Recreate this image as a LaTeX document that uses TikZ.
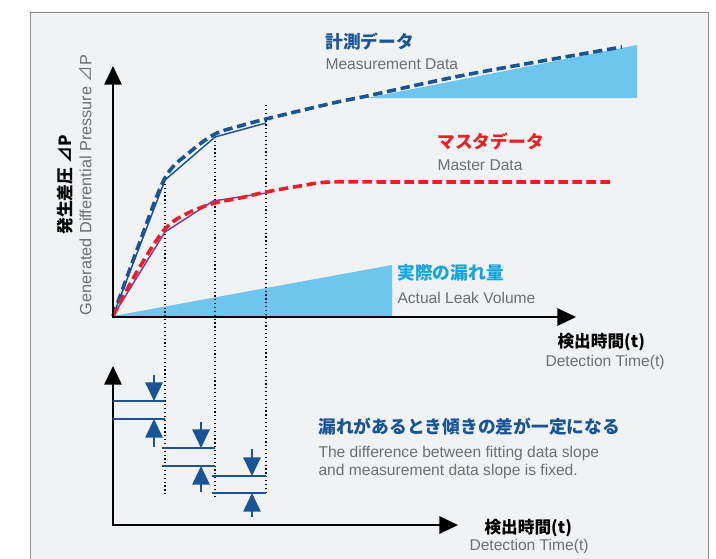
\documentclass[tikz,border=0pt]{standalone}
\usepackage{fontspec}
\setmainfont{Liberation Sans}
\newfontfamily\jp{Noto Sans CJK JP}
\usetikzlibrary{arrows.meta}

\definecolor{panelgray}{RGB}{241,242,244}
\definecolor{framegray}{RGB}{140,140,140}
\definecolor{measblue}{RGB}{24,84,150}
\definecolor{masterred}{RGB}{236,30,38}
\definecolor{leakblue}{RGB}{110,198,238}
\definecolor{leakcyan}{RGB}{20,165,225}
\definecolor{fitpurple}{RGB}{125,60,160}
\definecolor{textgray}{RGB}{110,111,113}

\tikzset{every picture/.style={line width=0.75pt}}
\tikzset{
  axisline/.style={black, line width=1.5pt, -{Triangle[length=14pt,width=13pt]}},
  guideline/.style={black, line width=0.9pt, dotted},
  jptitle/.style={anchor=west, inner sep=0.75pt, font=\jp\bfseries\fontsize{13.3pt}{15pt}\selectfont},
  entext/.style={anchor=west, inner sep=0.75pt, text=textgray, font=\fontsize{11.7pt}{13.5pt}\selectfont},
  difftick/.style={measblue, line width=1.5pt},
  diffarrow/.style={measblue, line width=1.5pt, -{Triangle[length=14pt,width=13pt]}}
}

\begin{document}
\begin{tikzpicture}[x=0.75pt,y=0.75pt,yscale=-1,xscale=1]
\useasboundingbox (0,0) rectangle (716,558);

%Shape: Rectangle [panel]
\fill[white] (0,0) rectangle (716,558);
\draw [draw=framegray, fill=panelgray] (30,12) -- (708,12) -- (708,575) -- (30,575) -- cycle ;

%Shape: Triangle [actual leak volume]
\fill [leakblue] (113,316) -- (392,265) -- (392,316) -- cycle ;
%Shape: Triangle [leak on measurement]
\fill [leakblue] (367,98) -- (637,45) -- (637,98) -- cycle ;

%Dotted guides
\draw [guideline] (165,180) -- (165,496) ;
\draw [guideline] (215,133) -- (215,497) ;
\draw [guideline] (266,105) -- (266,495) ;

%Fitting lines
\draw [measblue, line width=1.1pt] (113,316) -- (165,180) -- (215,137) -- (266,123) ;
\draw [fitpurple, line width=1.1pt] (113,316) -- (165,232) -- (213,201) -- (266,193) ;

%Curve: measurement data
\draw [measblue, line width=2.7pt, dash pattern=on 7pt off 3.5pt]
  plot [smooth, tension=0.55] coordinates {(113,316) (138,247) (165,178) (190,152) (215,134) (240,126) (266,119) (333,103) (367,96) (470,74) (622,47)} ;
%Curve: master data
\draw [masterred, line width=2.7pt, dash pattern=on 7pt off 3.5pt]
  plot [smooth, tension=0.55] coordinates {(113,316) (138,270) (165,229) (188,213) (215,203) (240,198) (266,192) (300,186) (330,182) (400,182) (610,182)} ;

%Axes
\draw [axisline] (113,317) -- (113,66) ;
\draw [axisline] (112,317) -- (576,317) ;
\draw [axisline] (113,525) -- (113,366) ;
\draw [axisline] (112,525) -- (458,525) ;

%Slope differences
\draw [difftick] (113,401) -- (165,401) (113,419) -- (165,419) ;
\draw [diffarrow] (154,375) -- (154,401) ;
\draw [diffarrow] (154,447) -- (154,419) ;
\draw [difftick] (162,448) -- (215,448) (162,466) -- (215,466) ;
\draw [diffarrow] (201,422) -- (201,448) ;
\draw [diffarrow] (201,492) -- (201,466) ;
\draw [difftick] (212,476) -- (266,476) (212,493) -- (266,493) ;
\draw [diffarrow] (252,449) -- (252,476) ;
\draw [diffarrow] (252,517) -- (252,493) ;

% Text Node
\draw (324,42) node (measjp) [jptitle, text=measblue] {計測データ};
% Text Node
\draw (324,64) node (measen) [entext] {Measurement Data};
% Text Node
\draw (436,141) node (masterjp) [jptitle, text=masterred] {マスタデータ};
% Text Node
\draw (436,165) node (masteren) [entext] {Master Data};
% Text Node
\draw (396,273) node (leakjp) [jptitle, text=leakcyan] {実際の漏れ量};
% Text Node
\draw (396,298) node (leaken) [entext] {Actual Leak Volume};
% Text Node
\draw (317,427) node (diffjp) [jptitle, text=measblue] {漏れがあるとき傾きの差が一定になる};
% Text Node
\draw (317,462) node (diffen) [entext, align=left] {The difference between fitting data slope\\and measurement data slope is fixed.};
% Text Node
\draw (556,342) node (timejpa) [anchor=west, inner sep=0.75pt, font=\jp\bfseries\fontsize{12.5pt}{14pt}\selectfont] {検出時間(t)};
% Text Node
\draw (544,362) node (timeena) [entext] {Detection Time(t)};
% Text Node
\draw (483,528) node (timejpb) [anchor=west, inner sep=0.75pt, font=\jp\bfseries\fontsize{12.5pt}{14pt}\selectfont] {検出時間(t)};
% Text Node
\draw (468,546) node (timeenb) [entext] {Detection Time(t)};
% Text Node
\draw (65,185) node (pressjp) [rotate=90, inner sep=0.75pt, font=\jp\bfseries\fontsize{12.6pt}{14pt}\selectfont] {発生差圧 ⊿P};
% Text Node
\draw (85,185) node (pressen) [rotate=90, inner sep=0.75pt, text=textgray, font=\fontsize{12.2pt}{13.5pt}\selectfont] {Generated Differential Pressure {\jp ⊿}P};

\end{tikzpicture}
\end{document}
